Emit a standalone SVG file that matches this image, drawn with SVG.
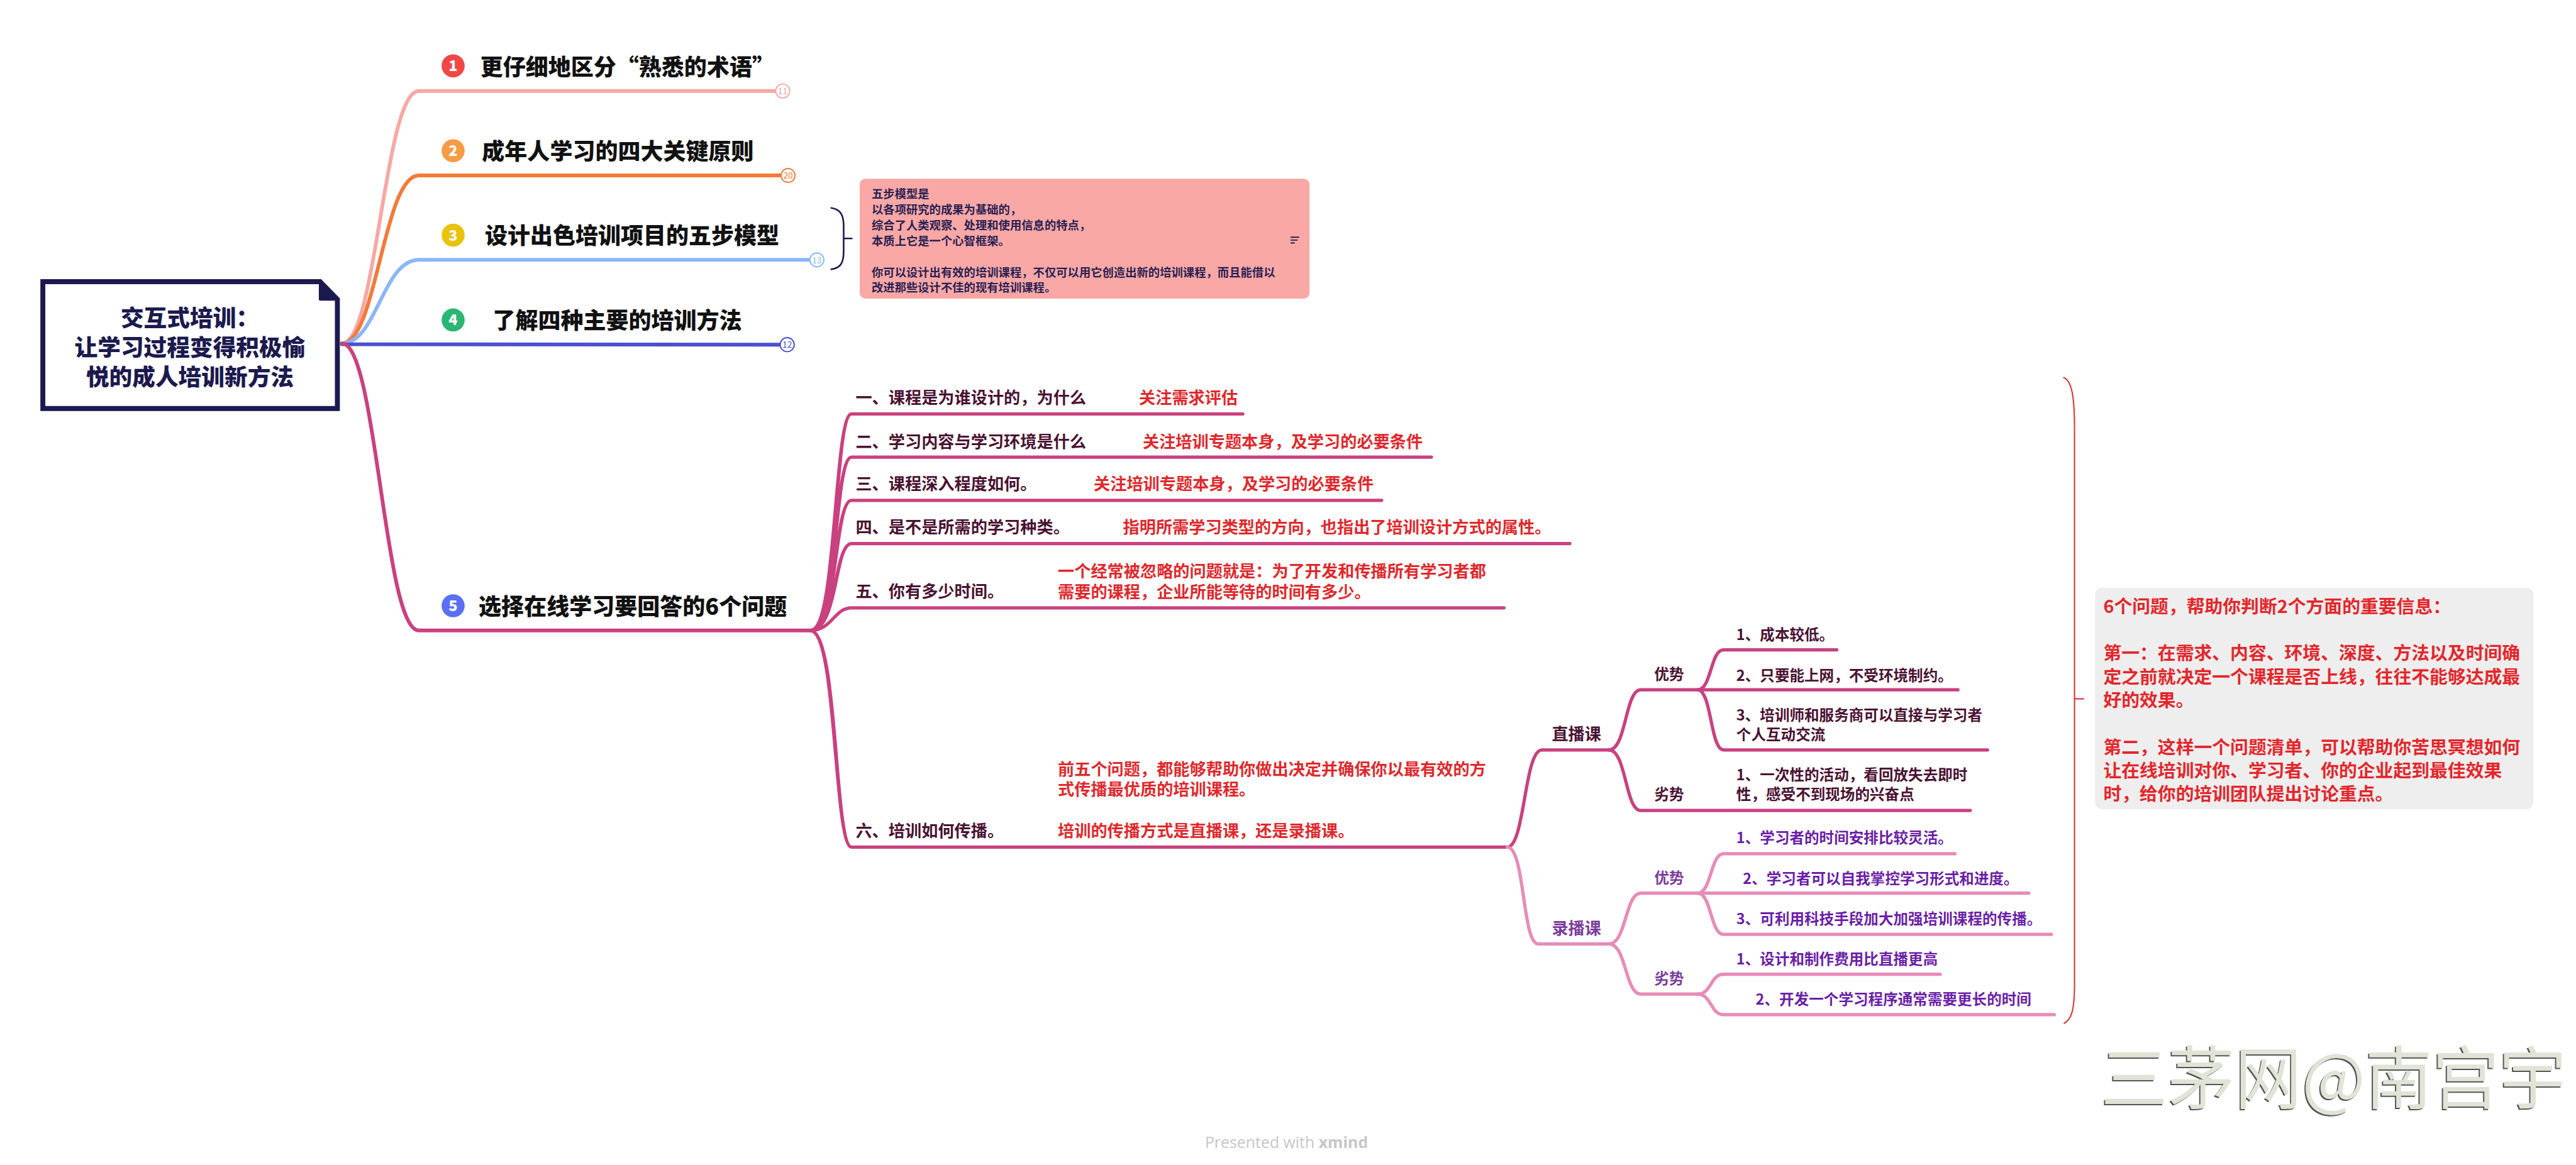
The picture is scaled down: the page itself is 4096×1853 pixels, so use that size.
<svg xmlns="http://www.w3.org/2000/svg" width="4096" height="1853" viewBox="0 0 4096 1853">
<style>
text{font-family:"Noto Sans CJK SC","Noto Sans",sans-serif;font-weight:700}
.main{font-size:55px;fill:#111111;font-weight:900}
.root{font-size:56px;fill:#1c1a4e;text-anchor:middle;font-weight:900}
.sub{font-size:40px;fill:#4a1232}
.red{font-size:40px;fill:#e0282c}
.leaf{font-size:36px;fill:#4a1232}
.lab2{font-size:36px;fill:#7b3d99}
.pur{font-size:36px;fill:#6a1fa8}
.note{font-size:28px;fill:#2a1f52}
.grey{font-size:44px;fill:#e4262b}
.num{font-size:36px;fill:#ffffff;text-anchor:middle;font-weight:900}
.badge{font-size:21px;font-weight:400;text-anchor:middle}
.ln{fill:none;stroke-linecap:round}
.c5{stroke:#c9417f;stroke-width:8}
.c6{stroke:#e88bb8;stroke-width:8}
.wm{font-size:166px;font-weight:400}
</style>
<rect width="4096" height="1853" fill="#ffffff"/>
<g transform="scale(0.655)">
<!-- connectors -->
<g id="connectors" class="ln">
 <path d="M830,834 C915,834 932,221 1017,221 L1883,221" stroke="#f7a8a6" stroke-width="9" fill="none"/>
 <path d="M830,834 C915,834 930,426 1017,426 L1896,426" stroke="#f47a38" stroke-width="9" fill="none"/>
 <path d="M830,834 C915,834 928,631 1017,631 L1966,631" stroke="#8cb6f7" stroke-width="9" fill="none"/>
 <path d="M830,836 L1894,837" stroke="#4b50cf" stroke-width="9" fill="none"/>
 <path d="M830,834 C915,834 932,1531 1017,1531 L1967,1531" stroke="#c9417f" stroke-width="9" fill="none"/>
 <g class="c5" fill="none">
  <path d="M1967,1531 C2035,1531 2025,1005 2067,1005 L3017,1005"/>
  <path d="M1967,1531 C2035,1531 2025,1110 2067,1110 L3475,1110"/>
  <path d="M1967,1531 C2035,1531 2025,1215 2067,1215 L3354,1215"/>
  <path d="M1967,1531 C2035,1531 2025,1320 2067,1320 L3811,1320"/>
  <path d="M1967,1531 C2020,1531 2025,1476 2067,1476 L3651,1476"/>
  <path d="M1967,1531 C2035,1531 2025,2057 2067,2057 L3659,2057"/>
  <path d="M3659,2057 C3702,2057 3700,1821 3743,1821 L3906,1821"/>
  <path d="M3906,1821 C3948,1821 3945,1675 3983,1675 L4753,1675"/>
  <path d="M3906,1821 C3948,1821 3945,1968 3983,1968 L4783,1968"/>
  <path d="M4121,1675 C4155,1675 4152,1578 4184,1578 L4459,1578"/>
  <path d="M4121,1675 C4155,1675 4152,1821 4184,1821 L4825,1821"/>
 </g>
 <g stroke="#c9417f" stroke-width="5" fill="none">
  <path d="M1967,1533 C2030,1531 2022,1005 2067,1005"/>
  <path d="M1967,1533 C2030,1531 2022,1110 2067,1110"/>
  <path d="M1967,1533 C2030,1531 2022,1215 2067,1215"/>
  <path d="M1967,1533 C2030,1531 2022,1320 2067,1320"/>
  <path d="M1967,1533 C2030,1531 2022,2057 2067,2057"/>
 </g>
 <g class="c6" fill="none">
  <path d="M3659,2057 C3702,2057 3695,2292 3734,2292 L3906,2292"/>
  <path d="M3906,2292 C3948,2292 3945,2169 3983,2169 L4925,2169"/>
  <path d="M3906,2292 C3948,2292 3945,2414 3983,2414 L4121,2414"/>
  <path d="M4121,2169 C4155,2169 4152,2073 4184,2073 L4746,2073"/>
  <path d="M4121,2169 C4155,2169 4152,2269 4184,2269 L4980,2269"/>
  <path d="M4121,2414 C4155,2414 4152,2366 4184,2366 L4710,2366"/>
  <path d="M4121,2414 C4155,2414 4152,2464 4184,2464 L4987,2464"/>
 </g>
 <path d="M2018,505 C2040,508 2048,522 2048,548 L2048,610 C2048,640 2040,651 2018,654 M2048,579 L2068,579" stroke="#1b1a4f" stroke-width="4" fill="none"/>
 <path d="M5010,917 C5030,925 5036,965 5036,1040 L5036,2390 C5036,2455 5028,2476 5011,2485 M5036,1697 L5058,1697" stroke="#d92b2b" stroke-width="3" fill="none"/>
</g>
<!-- badges -->
<g id="badges">
 <circle cx="1900" cy="221" r="17" fill="#fff" stroke="#f7a8a6" stroke-width="3"/><text class="badge" x="1900" y="229" fill="#f09c9c">11</text>
 <circle cx="1913" cy="426" r="17" fill="#fff" stroke="#f47a38" stroke-width="3"/><text class="badge" x="1913" y="434" fill="#f47a38">20</text>
 <circle cx="1983" cy="631" r="17" fill="#fff" stroke="#8cb6f7" stroke-width="3"/><text class="badge" x="1983" y="639" fill="#8cb6f7">13</text>
 <circle cx="1911" cy="837" r="17" fill="#fff" stroke="#4b50cf" stroke-width="3"/><text class="badge" x="1911" y="845" fill="#4b50cf">12</text>
</g>
<!-- root -->
<g id="root">
 <path d="M104,684 L777,684 L819,727 L819,992 L104,992 Z" fill="#ffffff" stroke="#1b1a4f" stroke-width="12" stroke-linejoin="miter"/>
 <path d="M777,684 L777,727 L819,727 Z" fill="#1b1a4f" stroke="#1b1a4f" stroke-width="6" stroke-linejoin="round"/>
 <text class="root" x="461" y="793">交互式培训：</text>
 <text class="root" x="461" y="864">让学习过程变得积极愉</text>
 <text class="root" x="461" y="936">悦的成人培训新方法</text>
</g>
<!-- main topics -->
<g id="topic1"><circle cx="1100" cy="160" r="28" fill="#f04747"/><text class="num" x="1100" y="173">1</text><text class="main" x="1166" y="183">更仔细地区分“熟悉的术语”</text></g>
<g id="topic2"><circle cx="1100" cy="366" r="28" fill="#f79b45"/><text class="num" x="1100" y="379">2</text><text class="main" x="1170" y="388">成年人学习的四大关键原则</text></g>
<g id="topic3"><circle cx="1100" cy="571" r="28" fill="#e8c30a"/><text class="num" x="1100" y="584">3</text><text class="main" x="1177" y="593">设计出色培训项目的五步模型</text></g>
<g id="topic4"><circle cx="1100" cy="777" r="28" fill="#2bb673"/><text class="num" x="1100" y="790">4</text><text class="main" x="1196" y="799">了解四种主要的培训方法</text></g>
<g id="topic5"><circle cx="1100" cy="1471" r="28" fill="#5b6ef5"/><text class="num" x="1100" y="1484">5</text><text class="main" x="1162" y="1493">选择在线学习要回答的6个问题</text></g>
<!-- five-step note -->
<g id="note-fivestep">
 <rect x="2087" y="434" width="1092" height="291" rx="14" fill="#f9a8a6"/>
 <text class="note" x="2116" y="481">五步模型是</text>
 <text class="note" x="2116" y="519">以各项研究的成果为基础的，</text>
 <text class="note" x="2116" y="557">综合了人类观察、处理和使用信息的特点，</text>
 <text class="note" x="2116" y="595">本质上它是一个心智框架。</text>
 <text class="note" x="2116" y="671">你可以设计出有效的培训课程，不仅可以用它创造出新的培训课程，而且能借以</text>
 <text class="note" x="2116" y="709">改进那些设计不佳的现有培训课程。</text>
 <path d="M3133,576 H3154 M3133,583 H3150 M3133,590 H3143" stroke="#2a1f52" stroke-width="3"/>
</g>
<!-- questions -->
<g id="q1"><text class="sub" x="2077" y="980">一、课程是为谁设计的，为什么</text><text class="red" x="2765" y="980">关注需求评估</text></g>
<g id="q2"><text class="sub" x="2077" y="1087">二、学习内容与学习环境是什么</text><text class="red" x="2774" y="1087">关注培训专题本身，及学习的必要条件</text></g>
<g id="q3"><text class="sub" x="2077" y="1190">三、课程深入程度如何。</text><text class="red" x="2655" y="1190">关注培训专题本身，及学习的必要条件</text></g>
<g id="q4"><text class="sub" x="2077" y="1295">四、是不是所需的学习种类。</text><text class="red" x="2726" y="1295">指明所需学习类型的方向，也指出了培训设计方式的属性。</text></g>
<g id="q5"><text class="sub" x="2077" y="1451">五、你有多少时间。</text><text class="red" x="2568" y="1401">一个经常被忽略的问题就是：为了开发和传播所有学习者都</text><text class="red" x="2568" y="1452">需要的课程，企业所能等待的时间有多少。</text></g>
<g id="q6"><text class="sub" x="2077" y="2032">六、培训如何传播。</text><text class="red" x="2568" y="1883">前五个问题，都能够帮助你做出决定并确保你以最有效的方</text><text class="red" x="2568" y="1931">式传播最优质的培训课程。</text><text class="red" x="2568" y="2032">培训的传播方式是直播课，还是录播课。</text></g>
<!-- live -->
<g id="live"><text class="sub" x="3767" y="1797">直播课</text></g>
<g id="live-pro"><text class="leaf" x="4016" y="1651">优势</text></g>
<g id="live-pro-1"><text class="leaf" x="4215" y="1554">1、成本较低。</text></g>
<g id="live-pro-2"><text class="leaf" x="4215" y="1653">2、只要能上网，不受环境制约。</text></g>
<g id="live-pro-3"><text class="leaf" x="4215" y="1749">3、培训师和服务商可以直接与学习者</text><text class="leaf" x="4215" y="1797">个人互动交流</text></g>
<g id="live-con"><text class="leaf" x="4016" y="1942">劣势</text></g>
<g id="live-con-1"><text class="leaf" x="4215" y="1895">1、一次性的活动，看回放失去即时</text><text class="leaf" x="4215" y="1942">性，感受不到现场的兴奋点</text></g>
<!-- recorded -->
<g id="rec"><text class="sub" x="3767" y="2268" style="fill:#7b3d99">录播课</text></g>
<g id="rec-pro"><text class="lab2" x="4016" y="2145">优势</text></g>
<g id="rec-pro-1"><text class="pur" x="4215" y="2048">1、学习者的时间安排比较灵活。</text></g>
<g id="rec-pro-2"><text class="pur" x="4231" y="2146">2、学习者可以自我掌控学习形式和进度。</text></g>
<g id="rec-pro-3"><text class="pur" x="4215" y="2244">3、可利用科技手段加大加强培训课程的传播。</text></g>
<g id="rec-con"><text class="lab2" x="4016" y="2390">劣势</text></g>
<g id="rec-con-1"><text class="pur" x="4215" y="2342">1、设计和制作费用比直播更高</text></g>
<g id="rec-con-2"><text class="pur" x="4262" y="2439">2、开发一个学习程序通常需要更长的时间</text></g>
<!-- summary -->
<g id="summary">
 <rect x="5086" y="1427" width="1064" height="538" rx="16" fill="#eeeeee"/>
 <text class="grey" x="5106" y="1488">6个问题，帮助你判断2个方面的重要信息：</text>
 <text class="grey" x="5106" y="1602">第一：在需求、内容、环境、深度、方法以及时间确</text>
 <text class="grey" x="5106" y="1659">定之前就决定一个课程是否上线，往往不能够达成最</text>
 <text class="grey" x="5106" y="1716">好的效果。</text>
 <text class="grey" x="5106" y="1830">第二，这样一个问题清单，可以帮助你苦思冥想如何</text>
 <text class="grey" x="5106" y="1887">让在线培训对你、学习者、你的企业起到最佳效果</text>
 <text class="grey" x="5106" y="1944">时，给你的培训团队提出讨论重点。</text>
</g>
<!-- watermark -->
<g id="watermark">
 <text class="wm" x="5097" y="2683" textLength="1130" lengthAdjust="spacingAndGlyphs" fill="#555555">三茅网@南宫宇</text>
 <text class="wm" x="5100" y="2680" textLength="1130" lengthAdjust="spacingAndGlyphs" fill="#dfe4d6">三茅网@南宫宇</text>
</g>
<text x="2925" y="2788" style="font-family:'Open Sans',sans-serif;font-size:38px;font-weight:400;fill:#c6c6c6">Presented with <tspan style="font-weight:700">xmind</tspan></text>
</g>
</svg>
